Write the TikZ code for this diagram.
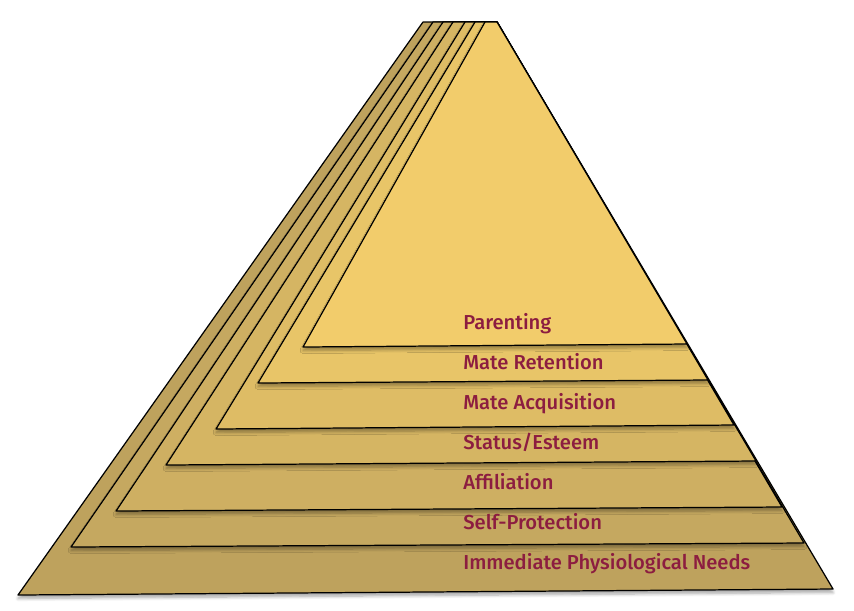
\documentclass[tikz,border=0pt]{standalone}
\usepackage{fontspec}
\usepackage{xcolor}
\usepackage{tikz}
\usetikzlibrary{shadows.blur}
\newfontfamily\tierfont{Fira Sans}[UprightFont=* Medium]
\definecolor{maroon}{RGB}{140,29,64}

\begin{document}
\begin{tikzpicture}[
    x=0.02cm, y=-0.02cm,
    level/.style={draw=black, line width=0.7pt, line join=round, fill=#1,
      blur shadow={shadow xshift=0pt, shadow yshift=-2pt, shadow blur steps=6, shadow opacity=35}},
    tier/.style={anchor=base west, text=maroon, inner sep=0pt, font=\tierfont\fontsize{11.5}{13}\selectfont}
  ]
    \useasboundingbox (0,0) rectangle (854,610);

    % layers, back to front: bottom-left / base y left / bottom-right / base y right / top-left / colour
    \foreach \bx/\by/\rx/\ry/\tx/\col in {
        18/595/833/589/423/{190,162,93},
        71/547/804/543/433/{197,168,96},
        116/511/782/507/443/{206,175,98},
        166/465/756/461/453/{213,181,99},
        216/429/734/425/465/{222,188,101},
        258/383/708/380/475/{232,197,104},
        303/347/687/344/485/{242,204,107}} {
      \definecolor{layerfill}{RGB}{\col}
      \filldraw[level=layerfill] (\bx,\by) -- (\rx,\ry) -- (497,22) -- (\tx,22) -- cycle;
    }

    \node[tier] (parenting) at (463,329) {Parenting};
    \node[tier] (retention) at (463,369) {Mate Retention};
    \node[tier] (acquisition) at (463,409) {Mate Acquisition};
    \node[tier] (status) at (463,449) {Status/Esteem};
    \node[tier] (affiliation) at (463,489) {Affiliation};
    \node[tier] (protection) at (463,529) {Self-Protection};
    \node[tier] (physiological) at (463,569) {Immediate Physiological Needs};
  \end{tikzpicture}
\end{document}
